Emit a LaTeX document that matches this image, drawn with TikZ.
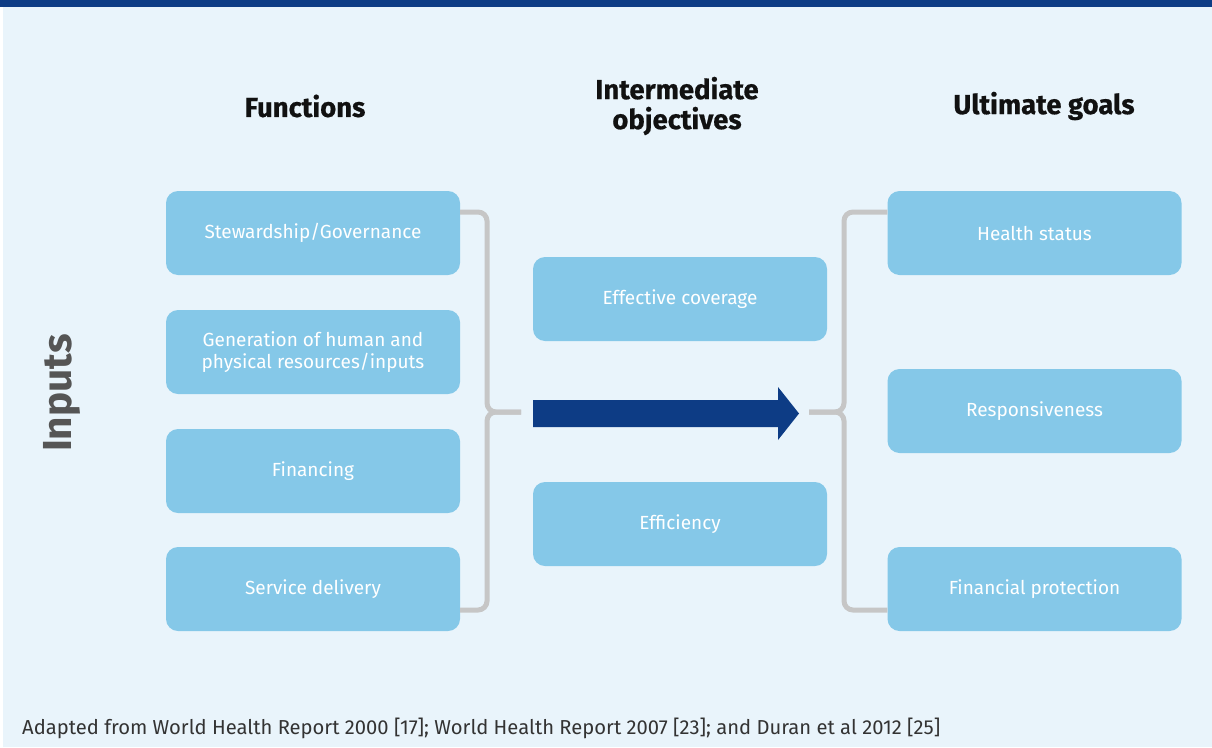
\documentclass[tikz,border=0pt]{standalone}
\usepackage{fontspec}
\setmainfont{Fira Sans}
\newfontfamily\heavyfont[BoldFeatures={FakeBold=0.6}]{Fira Sans}
\usetikzlibrary{calc}
\definecolor{bgc}{HTML}{E9F4FB}
\definecolor{darkblue}{HTML}{0D3C85}
\definecolor{boxc}{HTML}{85C8E8}
\definecolor{linec}{HTML}{C6C6C6}
\definecolor{inputc}{HTML}{555555}
\definecolor{headc}{HTML}{111111}
\definecolor{footc}{HTML}{333333}
\tikzset{
  box/.style={fill=boxc, rounded corners=12pt, minimum width=294pt, minimum height=84pt,
    text=white, font=\fontsize{19}{22}\selectfont, align=center, inner sep=0pt},
  head/.style={text=headc, font=\heavyfont\fontsize{27.5}{30}\selectfont\bfseries, align=center},
  bracket/.style={draw=linec, line width=5pt, rounded corners=9pt},
}
\begin{document}
\begin{tikzpicture}[x=1pt,y=-1pt]
\useasboundingbox (0,0) rectangle (1212,747);
\fill[bgc] (3,0) rectangle (1212,747);
\fill[darkblue] (0,0) rectangle (1212,7);

% headers
\node[head] (hf) at (305,106) {Functions};
\node[head] (hi) at (677,106) {Intermediate\\objectives};
\node[head] (hu) at (1044,106) {Ultimate goals};

% inputs label
\node[text=inputc, font=\fontsize{40.5}{42}\selectfont\bfseries, rotate=90] (inp) at (62,393) {Inputs};

% left boxes
\node[box] (f1) at (313,233) {Stewardship/Governance};
\node[box] (f2) at (313,352) {Generation of human and\\physical resources/inputs};
\node[box] (f3) at (313,471) {Financing};
\node[box] (f4) at (313,589) {Service delivery};

% middle boxes
\node[box] (m1) at (680,299) {Effective coverage};
\node[box] (m2) at (680,524) {Efficiency};

% right boxes
\node[box] (g1) at (1034.5,233) {Health status};
\node[box] (g2) at (1034.5,411) {Responsiveness};
\node[box] (g3) at (1034.5,589) {Financial protection};

% bracket coordinates
\coordinate (lj) at (487,412);
\coordinate (le) at (521,412);
\coordinate (rj) at (844,412);
\coordinate (re) at (809,412);

% left bracket
\draw[bracket] ([yshift=21pt]f1.east) -| (lj) -- (le);
\draw[bracket] ([yshift=-21pt]f4.east) -| (lj) -- (le);
% right bracket
\draw[bracket] ([yshift=21pt]g1.west) -| (rj) -- (re);
\draw[bracket] ([yshift=-21pt]g3.west) -| (rj) -- (re);

% big arrow
\fill[darkblue] (533,400) -- (778,400) -- (778,387) -- (799,413.5) -- (778,440) -- (778,427) -- (533,427) -- cycle;

% footer
\node[anchor=west, text=footc, font=\fontsize{20.2}{22}\selectfont, inner sep=0pt] (foot) at (22,728) {Adapted from World Health Report 2000 [17]; World Health Report 2007 [23]; and Duran et al 2012 [25]};
\end{tikzpicture}
\end{document}
